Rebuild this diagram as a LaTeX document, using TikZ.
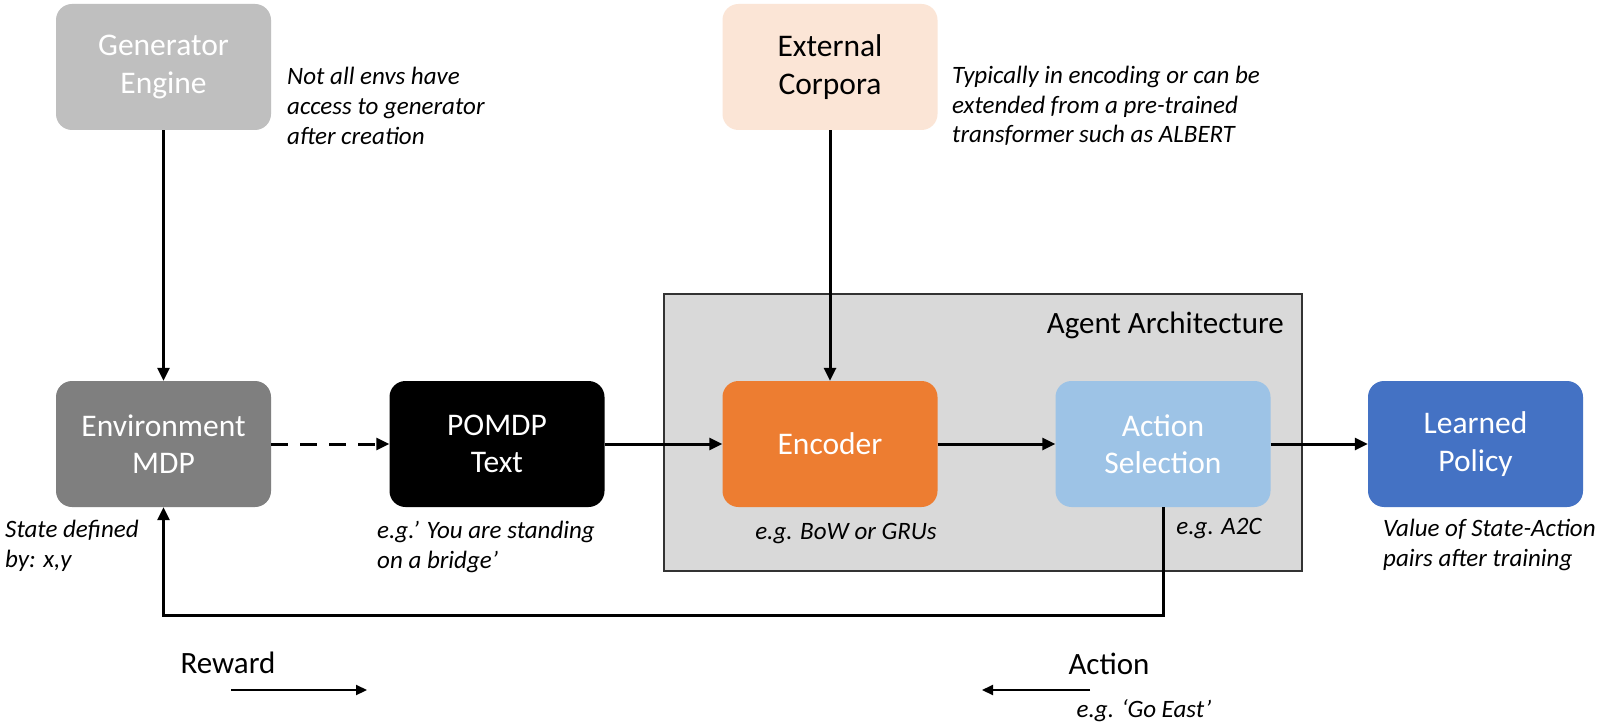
\documentclass[tikz,border=0pt]{standalone}
\usepackage{fontspec}
\setmainfont{Carlito}
\usetikzlibrary{arrows.meta,positioning}
\definecolor{gengray}{RGB}{191,191,191}
\definecolor{envgray}{RGB}{127,127,127}
\definecolor{corpora}{RGB}{251,229,214}
\definecolor{encorange}{RGB}{237,125,49}
\definecolor{actblue}{RGB}{157,195,230}
\definecolor{polblue}{RGB}{68,114,196}
\definecolor{agentbg}{RGB}{217,217,217}

\begin{document}
\begin{tikzpicture}[x=1pt,y=-1pt,
  blk/.style={rounded corners=16pt,minimum width=215pt,minimum height=126pt,
    align=center,inner sep=0pt,text=white,font=\fontsize{31.5}{37.5}\selectfont},
  note/.style={align=left,inner sep=0pt,font=\fontsize{25}{29.6}\selectfont\itshape},
  lbl/.style={inner sep=0pt,font=\fontsize{31}{36}\selectfont},
  flow/.style={line width=3pt,-{Triangle[length=13pt,width=12pt]}}
]
  \useasboundingbox[fill=white] (0,0) rectangle (1600,727);

  % agent frame
  \node[draw=black!80,line width=2pt,fill=agentbg,minimum width=638pt,
    minimum height=277pt,inner sep=0pt] (agent) at (983,432.5) {};
  \node[lbl,anchor=east] (agentlbl) at (1284,325) {Agent Architecture};

  % top row
  \node[blk,fill=gengray] (gen) at (163.5,67) {Generator\\Engine};
  \node[blk,fill=corpora,text=black] (corp) at (830,67) {External\\Corpora};
  \node[note,anchor=west] (gennote) at (287,106)
    {Not all envs have\\access to generator\\after creation};
  \node[note,anchor=west] (corpnote) at (952,106)
    {Typically in encoding or can be\\extended from a pre-trained\\transformer such as ALBERT};

  % main row
  \node[blk,fill=envgray] (env) at (163.5,444) {Environment\\MDP};
  \node[blk,fill=black] (pomdp) at (497,444) {POMDP\\Text};
  \node[blk,fill=encorange] (enc) at (830,444) {Encoder};
  \node[blk,fill=actblue] (act) at (1163,444) {Action\\Selection};
  \node[blk,fill=polblue] (pol) at (1475.5,444) {Learned\\Policy};

  % notes under the row
  \node[note,anchor=west] (envnote) at (5,546) {State defined\\by: x,y};
  \node[note,anchor=west] (pomdpnote) at (377,547) {e.g.' You are standing\\on a bridge'};
  \node[note] (encnote) at (846,534) {e.g. BoW or GRUs};
  \node[note] (actnote) at (1219,529) {e.g. A2C};
  \node[note,anchor=west] (polnote) at (1383,545) {Value of State-Action\\pairs after training};

  % connectors
  \draw[flow] (gen) -- (env);
  \draw[flow] (corp) -- (enc);
  \draw[flow,dash pattern=on 17pt off 12pt] (env) -- (pomdp);
  \draw[flow] (pomdp) -- (enc);
  \draw[flow] (enc) -- (act);
  \draw[flow] (act) -- (pol);
  \draw[flow] (act.south) -- ++(0,108) -| (env.south);

  % legend
  \node[lbl] (reward) at (228,663) {Reward};
  \coordinate (rwa) at (231,690);
  \coordinate (rwb) at (367,690);
  \draw[flow,line width=2.2pt,-{Triangle[length=11pt,width=10pt]}] (rwa) -- (rwb);
  \node[lbl] (action) at (1109,664) {Action};
  \coordinate (aca) at (1090,690);
  \coordinate (acb) at (982,690);
  \draw[flow,line width=2.2pt,-{Triangle[length=11pt,width=10pt]}] (aca) -- (acb);
  \node[note] (eastnote) at (1144,711) {e.g. ‘Go East’};
\end{tikzpicture}
\end{document}
